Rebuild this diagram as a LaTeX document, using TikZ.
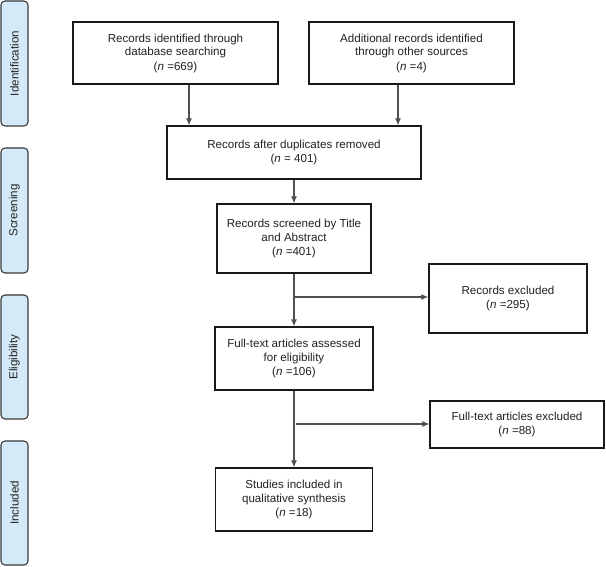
\documentclass[tikz,border=0pt]{standalone}
\usepackage{fontspec}
\setmainfont{Liberation Sans}
\usetikzlibrary{arrows.meta}
\definecolor{bandblue}{HTML}{D5EAF8}
\definecolor{bandline}{HTML}{3A3A3A}
\definecolor{connline}{HTML}{505050}
\definecolor{txt}{HTML}{222222}
\begin{document}
\begin{tikzpicture}[x=1pt,y=-1pt,
  box/.style={draw=black!90, line width=1.3pt, fill=white, align=center, text=txt,
    font=\fontsize{11.6}{14}\selectfont, inner sep=0pt},
  band/.style={draw=bandline, fill=bandblue, rounded corners=4pt, line width=1.1pt,
    text=txt, font=\fontsize{11.6}{14}\selectfont, inner sep=0pt},
  conn/.style={draw=connline, line width=1.2pt, -{Latex[length=7pt,width=6pt]}},
  link/.style={draw=connline, line width=1.2pt},
]
\useasboundingbox (0,0) rectangle (606,567);

% side bands
\node[band, minimum width=27pt, minimum height=125pt] (bid) at (14.5,63.5) {};
\node[rotate=90, text=txt, font=\fontsize{11.6}{14}\selectfont] (tid) at (bid.center) {Identification};
\node[band, minimum width=27pt, minimum height=125pt] (bsc) at (14.5,210.5) {};
\node[rotate=90, text=txt, font=\fontsize{11.6}{14}\selectfont] (tsc) at (bsc.center) {Screening};
\node[band, minimum width=27pt, minimum height=124pt] (bel) at (14.5,357) {};
\node[rotate=90, text=txt, font=\fontsize{11.6}{14}\selectfont] (tel) at (bel.center) {Eligibility};
\node[band, minimum width=27pt, minimum height=124pt] (bin) at (14.5,503) {};
\node[rotate=90, text=txt, font=\fontsize{11.6}{14}\selectfont] (tin) at (bin.center) {Included};

% boxes
\node[box, minimum width=205pt, minimum height=62pt] (b1) at (175.5,53)
  {Records identified through\\database searching\\(\textit{n} =669)};
\node[box, minimum width=205pt, minimum height=62pt] (b2) at (411.5,53)
  {Additional records identified\\through other sources\\(\textit{n} =4)};
\node[box, minimum width=254pt, minimum height=53pt] (b3) at (294,152.5)
  {Records after duplicates removed\\(\textit{n} = 401)};
\node[box, minimum width=154pt, minimum height=69pt] (b4) at (294,238.5)
  {Records screened by Title\\and Abstract\\(\textit{n} =401)};
\node[box, minimum width=158pt, minimum height=63pt] (b5) at (294,358.5)
  {Full-text articles assessed\\for eligibility\\(\textit{n} =106)};
\node[box, minimum width=157pt, minimum height=63pt] (b6) at (294,499.5)
  {Studies included in\\qualitative synthesis\\(\textit{n} =18)};
\node[box, minimum width=158pt, minimum height=69pt] (e1) at (508,298.5)
  {Records excluded\\(\textit{n} =295)};
\node[box, minimum width=174pt, minimum height=47pt] (e2) at (517,424.5)
  {Full-text articles excluded\\(\textit{n} =88)};

% connectors
\draw[conn] ([xshift=13.5pt]b1.south) -- ([xshift=13.5pt]b1.south |- b3.north);
\draw[conn] ([xshift=-13.5pt]b2.south) -- ([xshift=-13.5pt]b2.south |- b3.north);
\draw[conn] (b3) -- (b4);
\draw[conn] (b4) -- (b5);
\draw[conn] (b5) -- (b6);
\coordinate (j1) at (294,297);
\coordinate (j2) at (296,424);
\draw[conn] (j1) -- (j1 -| e1.west);
\draw[conn] (j2) -- (j2 -| e2.west);
\end{tikzpicture}
\end{document}
